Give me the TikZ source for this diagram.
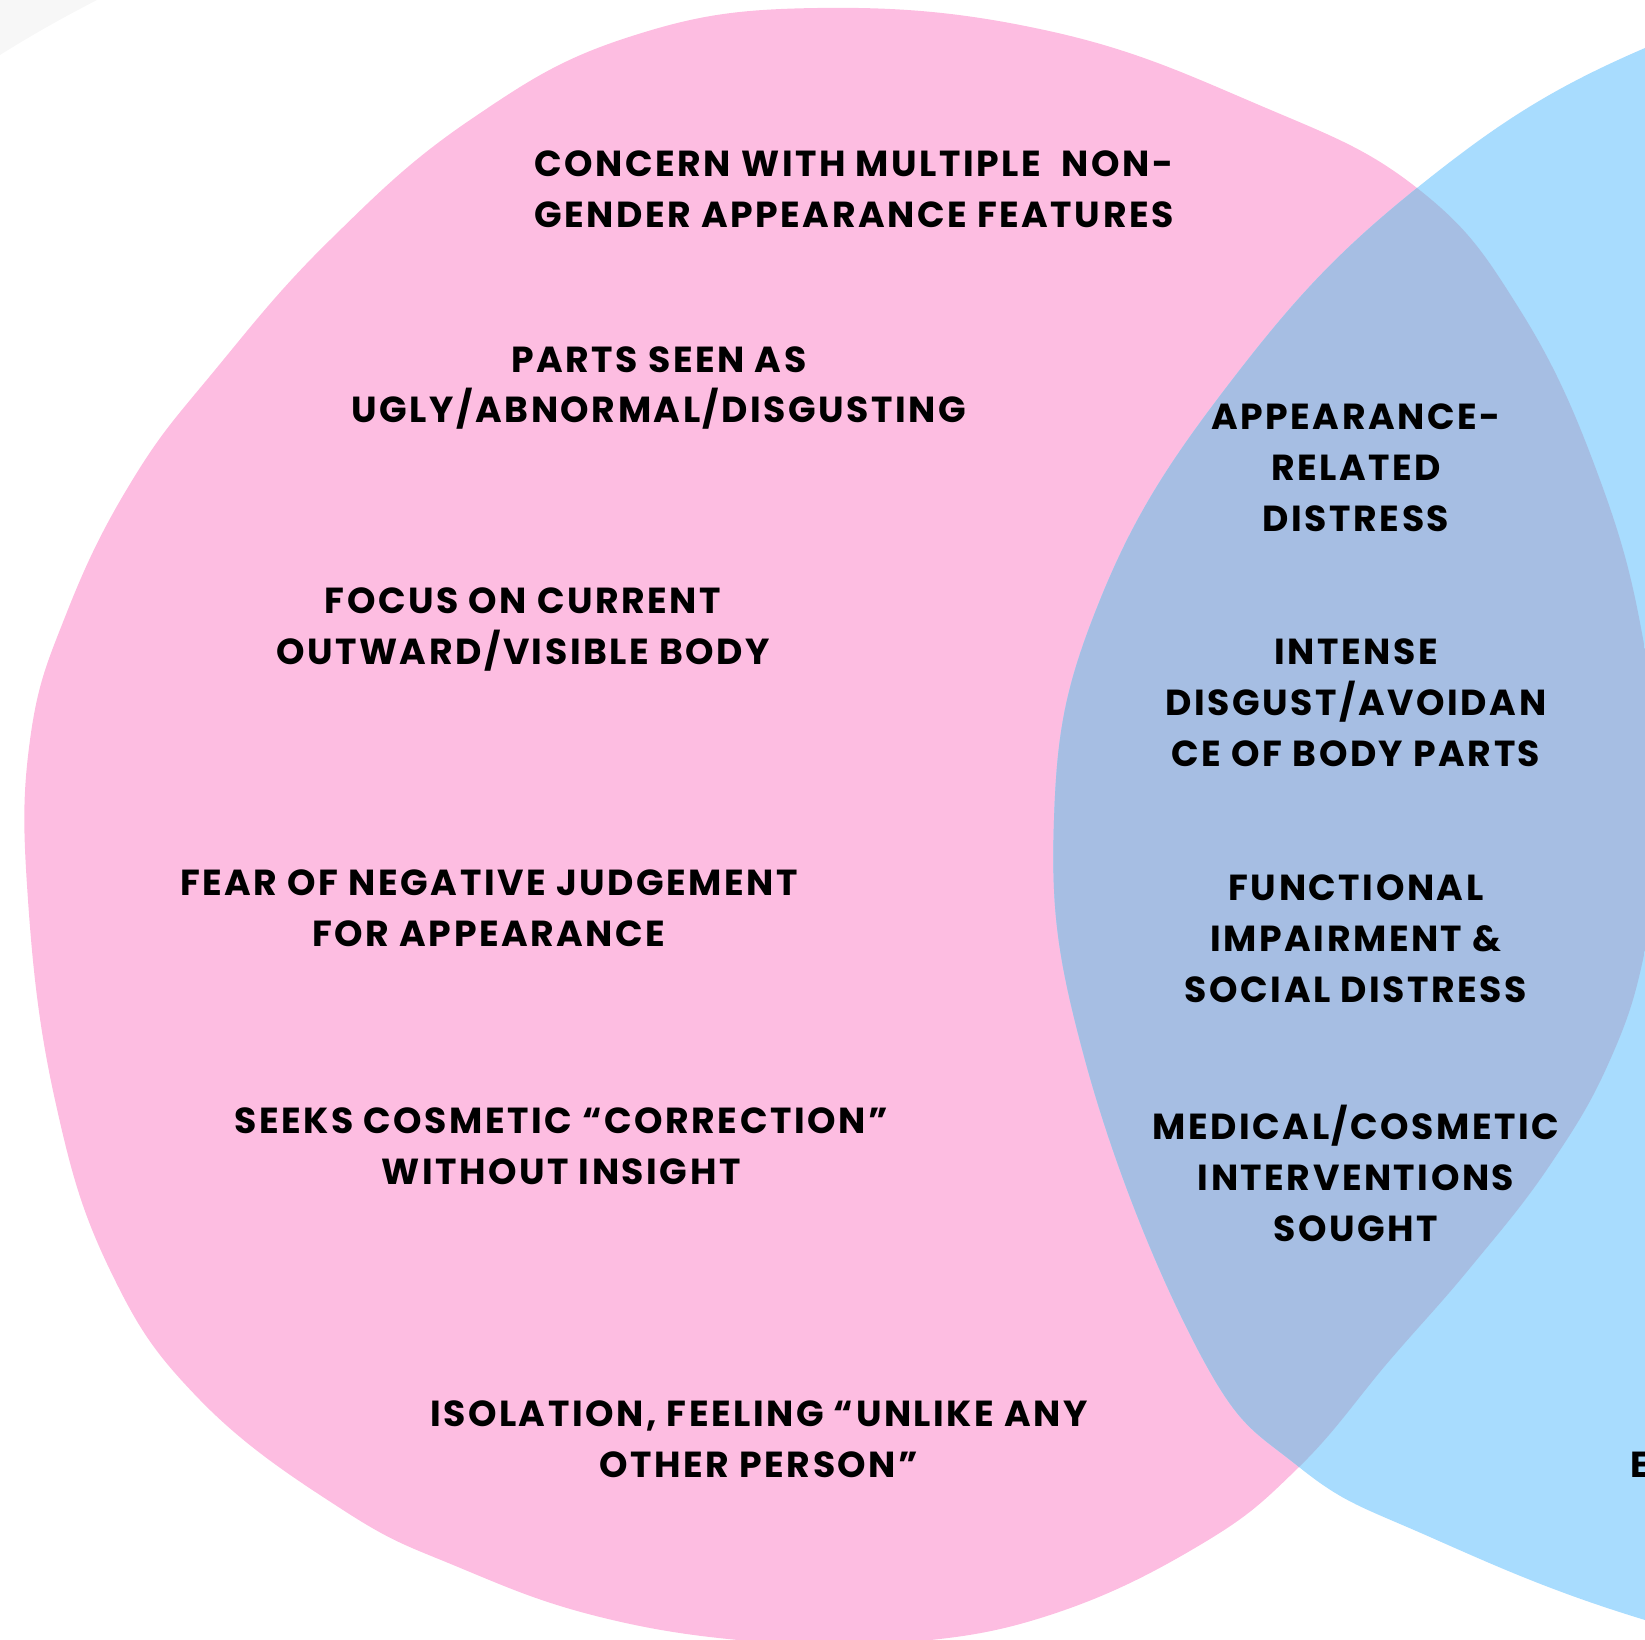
\documentclass[tikz,border=0pt]{standalone}
\usepackage{fontspec}
\setmainfont{Poppins}[LetterSpace=7]
\usepackage{tikz}
\usetikzlibrary{positioning}
\definecolor{blobpink}{RGB}{253,189,225}
\definecolor{blobblue}{RGB}{168,220,254}
\definecolor{blobmix}{RGB}{166,190,227}
\definecolor{cornergray}{RGB}{247,247,247}
\tikzstyle{sidetext} = [align=center, inner sep=0pt, text=black,
font=\fontsize{10.3}{14.5}\selectfont\bfseries]
\tikzstyle{midtext} = [sidetext, node distance=2.35cm]
\def\pinkblob{plot[smooth cycle, tension=0.7] coordinates {(818,8) (1049,31) (1259,105) (1417,188) (1520,310) (1600,480) (1645,650) (1660,820) (1645,950) (1610,1060) (1550,1165) (1470,1268) (1390,1360) (1299,1467) (1200,1545) (1050,1615) (900,1643) (760,1642) (600,1617) (458,1567) (343,1510) (200,1400) (110,1270) (55,1100) (28,900) (30,740) (67,612) (133,479) (215,370) (330,240) (470,120) (629,37)}}
\def\blueblob{plot[smooth cycle, tension=0.7] coordinates {(1645,48) (1417,188) (1232,380) (1100,600) (1054,820) (1085,1060) (1198,1350) (1299,1467) (1430,1537) (1645,1620) (1900,1680) (2300,1500) (2500,800) (2300,150) (1900,-20)}}

\begin{document}
\begin{tikzpicture}[x=0.01cm, y=-0.01cm]
	\useasboundingbox (0,0) rectangle (1645,1640);
	\clip (0,0) rectangle (1645,1640);
	
	% background shapes
	\fill[cornergray] (0,0) -- (0,55) .. controls (40,30) and (70,14) .. (97,0) -- cycle;
	\fill[blobpink] \pinkblob;
	\fill[blobblue] \blueblob;
	\begin{scope}
		\clip \pinkblob;
		\fill[blobmix] \blueblob;
	\end{scope}
	
	% pink side
	\node [sidetext] (concern) at (854,189) {CONCERN WITH MULTIPLE\ \ NON-\\GENDER APPEARANCE FEATURES};
	\node [sidetext] (parts) at (659,388) {PARTS SEEN AS\\UGLY/ABNORMAL/DISGUSTING};
	\node [sidetext] (focus) at (523,629) {FOCUS ON CURRENT\\OUTWARD/VISIBLE BODY};
	\node [sidetext] (fear) at (489,908) {FEAR OF NEGATIVE JUDGEMENT\\FOR APPEARANCE};
	\node [sidetext] (seeks) at (561,1146) {SEEKS COSMETIC “CORRECTION”\\WITHOUT INSIGHT};
	\node [sidetext] (isolation) at (759,1439) {ISOLATION, FEELING “UNLIKE ANY\\OTHER PERSON”};
	
	% overlap
	\node [midtext] (distress) at (1356,468) {APPEARANCE-\\RELATED\\DISTRESS};
	\node [midtext, below of=distress] (disgust) {INTENSE\\DISGUST/AVOIDAN\\CE OF BODY PARTS};
	\node [midtext, below of=disgust] (impair) {FUNCTIONAL\\IMPAIRMENT \&\\SOCIAL DISTRESS};
	\node [midtext, below of=impair] (medical) {MEDICAL/COSMETIC\\INTERVENTIONS\\SOUGHT};
	
	% blue side
	\node [sidetext, anchor=west] (blueE) at (1630,1465) {E};
\end{tikzpicture}
\end{document}
